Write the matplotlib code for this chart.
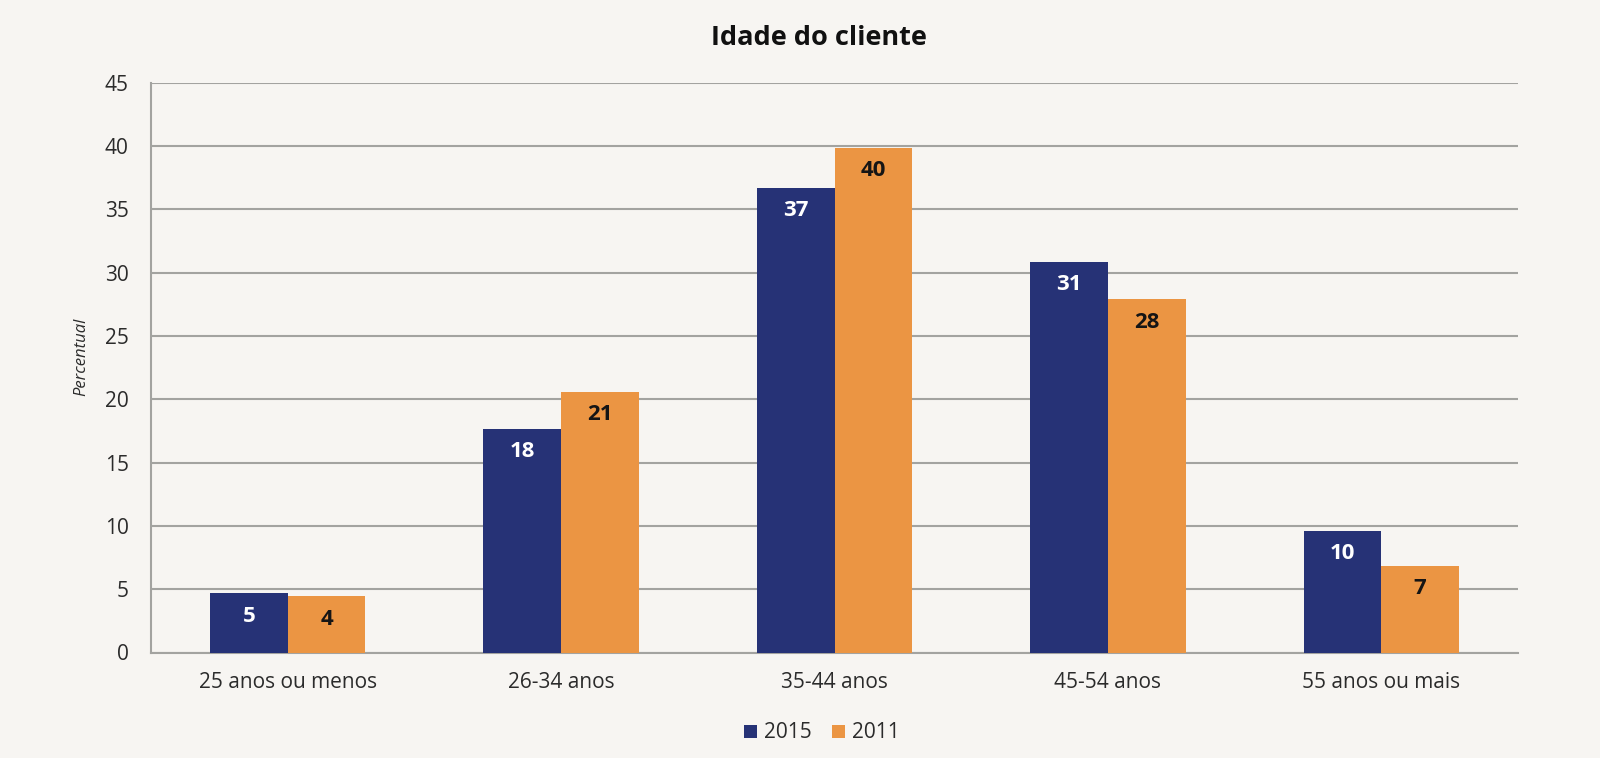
import matplotlib
matplotlib.use("Agg")
import matplotlib.pyplot as plt
import numpy as np

categories = ["25 anos ou menos", "26-34 anos", "35-44 anos", "45-54 anos", "55 anos ou mais"]
series_names = ["2015", "2011"]
values_2015 = [4.68, 17.68, 36.7, 30.85, 9.6]
values_2011 = [4.45, 20.6, 39.85, 27.9, 6.86]
yticks = [0, 5, 10, 15, 20, 25, 30, 35, 40, 45]

title = "Idade do cliente"
ylabel = "Percentual"

navy = "#263276"
orange = "#EB9543"
bg = "#F7F5F2"
grid_c = "#A3A3A0"
text_c = "#2b2b2b"

plt.rcParams["font.family"] = ["Open Sans", "DejaVu Sans"]
plt.rcParams["font.stretch"] = "normal"

fig = plt.figure(figsize=(16, 7.58), dpi=100, facecolor=bg)
ax = fig.add_axes([151/1600, 1-652.5/758, (1518-151)/1600, (652.5-82.7)/758])
ax.set_facecolor(bg)

x = np.arange(len(categories))
w = 0.284
b1 = ax.bar(x - w/2, values_2015, w, color=navy, label=series_names[0], zorder=3)
b2 = ax.bar(x + w/2, values_2011, w, color=orange, label=series_names[1], zorder=3)

for bars, vals, col in [(b1, values_2015, "white"), (b2, values_2011, "#151515")]:
    for rect, v in zip(bars, vals):
        ax.annotate(f"{round(v):d}", (rect.get_x() + rect.get_width()/2, v),
                    xytext=(0, -16.5), textcoords="offset points",
                    ha="center", va="center", fontsize=16, fontweight="bold",
                    fontstretch="normal", color=col, zorder=4)

ax.set_xlim(-0.5, len(categories) - 0.5)
ax.set_ylim(0, 45)
ax.set_yticks(yticks)
ax.set_yticklabels([str(t) for t in yticks])
ax.set_xticks(x)
ax.set_xticklabels(categories)
ax.tick_params(axis="both", length=0, labelsize=15, colors=text_c)
ax.tick_params(axis="y", pad=16)
ax.tick_params(axis="x", pad=14)

ax.yaxis.grid(True, color=grid_c, linewidth=1.5, zorder=0)
ax.xaxis.grid(False)
for s in ["top", "right"]:
    ax.spines[s].set_visible(False)
for s in ["left", "bottom"]:
    ax.spines[s].set_color(grid_c)
    ax.spines[s].set_linewidth(1.5)

fig.text(81.7/1600, 1-356.7/758, ylabel, rotation=90, ha="center", va="center",
         fontsize=12, fontstyle="italic", color=text_c)
fig.text(818.5/1600, 1-45/758, title, ha="center", va="baseline",
         fontsize=19.5, fontweight="bold", color="#111111")

leg = fig.legend(handles=[b1, b2], labels=series_names, loc="center",
                 bbox_to_anchor=(822/1600, 1-733/758), ncol=2, frameon=False,
                 fontsize=15, handlelength=0.6, handleheight=0.6,
                 handletextpad=0.35, columnspacing=1.0, labelcolor=text_c)

fig.savefig("out.png", dpi=100, facecolor=bg)
